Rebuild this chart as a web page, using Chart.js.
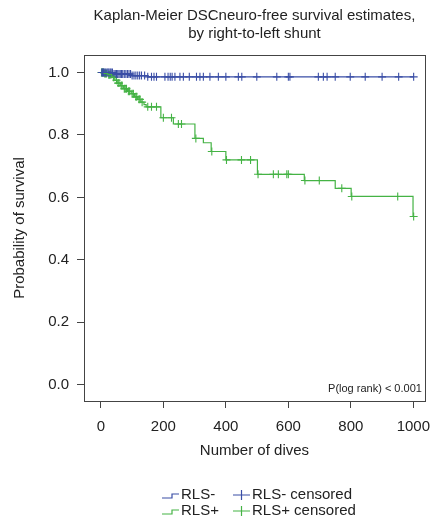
<!DOCTYPE html>
<html lang="en">
<head>
  <title>Kaplan-Meier DSCneuro-free survival</title>
  <script src="https://cdn.jsdelivr.net/npm/chart.js"></script>
  <style>
    body { margin: 0; background: #fff; }
    #wrap { width: 430px; height: 525px; position: relative; }
  </style>
</head>
<body>
  <div id="wrap">
    <canvas id="kmChart"></canvas>
  </div>
  <script>
    // RLS- : event times and survival after each event
    const negTimes = [0, 40, 100, 150, 1001];
    const negSurv = [1.0, 0.995, 0.99, 0.986, 0.986];
    const negCensored = [3, 5, 8, 10, 13, 16, 20, 23, 26, 30, 33, 37, 42, 46, 50, 54, 58, 62, 66, 70,
      75, 80, 85, 90, 95, 100, 106, 112, 118, 124, 130, 140, 150, 162, 170, 178, 205, 215, 222, 228,
      237, 253, 264, 283, 306, 317, 328, 349, 376, 400, 440, 451, 499, 563, 600, 605, 696, 712, 724,
      750, 798, 846, 900, 953, 1001];

    // RLS+
    const posTimes = [0, 10, 22, 35, 45, 52, 62, 72, 85, 97, 108, 118, 128, 138, 145, 192, 232, 301,
      328, 353, 400, 501, 651, 750, 801, 999];
    const posSurv = [1.0, 0.997, 0.993, 0.985, 0.975, 0.966, 0.958, 0.948, 0.94, 0.932, 0.922, 0.914,
      0.905, 0.897, 0.89, 0.855, 0.835, 0.789, 0.775, 0.747, 0.72, 0.674, 0.654, 0.629, 0.603, 0.539];
    const posCensored = [2, 4, 6, 8, 12, 15, 18, 25, 28, 32, 40, 42, 50, 55, 58, 65, 68, 75, 78, 82,
      88, 92, 100, 104, 112, 115, 122, 125, 132, 150, 162, 178, 200, 226, 248, 258, 304, 355, 402, 450,
      479, 503, 552, 568, 595, 600, 653, 699, 771, 803, 950, 1001];

    const xTicks = [0, 200, 400, 600, 800, 1000];
    const yTicks = [0, 0.2, 0.4, 0.6, 0.8, 1.0];

    const blue = '#3a4ea6';
    const green = '#45b345';
    const ink = '#222';
    const font = '"Liberation Sans", Arial, sans-serif';

    function survAt(times, surv, t) {
      let s = surv[0];
      for (let i = 0; i < times.length; i++) {
        if (times[i] <= t) s = surv[i];
      }
      return s;
    }
    function curve(times, surv) {
      return times.map((t, i) => ({ x: t, y: surv[i] }));
    }
    function marks(cens, times, surv) {
      return cens.map(t => ({ x: t, y: survAt(times, surv, t) }));
    }

    // frame, titles, legend and p value
    const extras = {
      id: 'extras',
      afterDraw(chart) {
        const ctx = chart.ctx;
        const a = chart.chartArea;
        ctx.save();
        ctx.strokeStyle = '#444';
        ctx.lineWidth = 1;
        ctx.strokeRect(Math.round(a.left) + 0.5, Math.round(a.top) + 0.5,
          Math.round(a.right - a.left), Math.round(a.bottom - a.top));

        const cx = (a.left + a.right) / 2;
        ctx.fillStyle = ink;
        ctx.textAlign = 'center';
        ctx.textBaseline = 'middle';
        ctx.font = '15px ' + font;
        ctx.fillText('Kaplan-Meier DSCneuro-free survival estimates,', cx, 16);
        ctx.fillText('by right-to-left shunt', cx, 34);

        ctx.fillText('Number of dives', cx, 451);
        ctx.save();
        ctx.translate(20, (a.top + a.bottom) / 2);
        ctx.rotate(-Math.PI / 2);
        ctx.fillText('Probability of survival', 0, 0);
        ctx.restore();

        ctx.font = '11px ' + font;
        ctx.textAlign = 'right';
        ctx.fillText('P(log rank) < 0.001', a.right - 3, 389);

        // legend
        const rows = [
          { y: 494, color: blue, label: 'RLS-' },
          { y: 510, color: green, label: 'RLS+' }
        ];
        ctx.font = '15px ' + font;
        ctx.textAlign = 'left';
        rows.forEach(r => {
          ctx.strokeStyle = r.color;
          ctx.lineWidth = 1.2;
          ctx.beginPath();
          ctx.moveTo(162, r.y + 4);
          ctx.lineTo(172, r.y + 4);
          ctx.lineTo(172, r.y);
          ctx.lineTo(179, r.y);
          ctx.stroke();
          ctx.beginPath();
          ctx.moveTo(233, r.y + 1);
          ctx.lineTo(250, r.y + 1);
          ctx.moveTo(241.5, r.y - 4);
          ctx.lineTo(241.5, r.y + 6);
          ctx.stroke();
          ctx.fillStyle = ink;
          ctx.fillText(r.label, 181, r.y + 1);
          ctx.fillText(r.label + ' censored', 252, r.y + 1);
        });
        ctx.restore();
      }
    };

    new Chart(document.getElementById('kmChart'), {
      type: 'scatter',
      data: {
        datasets: [
          {
            label: 'RLS-',
            type: 'line',
            data: curve(negTimes, negSurv),
            stepped: true,
            borderColor: blue,
            borderWidth: 1.2,
            pointRadius: 0,
            fill: false
          },
          {
            label: 'RLS+',
            type: 'line',
            data: curve(posTimes, posSurv),
            stepped: true,
            borderColor: green,
            borderWidth: 1.2,
            pointRadius: 0,
            fill: false
          },
          {
            label: 'RLS- censored',
            data: marks(negCensored, negTimes, negSurv),
            pointStyle: 'cross',
            pointRadius: 4,
            borderColor: blue,
            borderWidth: 1.1
          },
          {
            label: 'RLS+ censored',
            data: marks(posCensored, posTimes, posSurv),
            pointStyle: 'cross',
            pointRadius: 4,
            borderColor: green,
            borderWidth: 1.1
          }
        ]
      },
      options: {
        responsive: true,
        maintainAspectRatio: false,
        animation: false,
        events: [],
        layout: { padding: { top: 55, right: 5, bottom: 84, left: 0 } },
        plugins: {
          legend: { display: false },
          tooltip: { enabled: false },
          title: { display: false }
        },
        scales: {
          x: {
            type: 'linear',
            min: -54,
            max: 1037,
            afterFit(scale) {
              scale.height = 40;
              scale.paddingLeft = 0;
              scale.paddingRight = 0;
            },
            afterBuildTicks(scale) { scale.ticks = xTicks.map(v => ({ value: v })); },
            border: { display: false },
            grid: { drawOnChartArea: false, tickLength: 7, color: '#444', lineWidth: 1 },
            ticks: {
              color: ink,
              font: { family: font, size: 15 },
              padding: 10,
              maxRotation: 0,
              callback: v => String(v)
            }
          },
          y: {
            min: -0.052,
            max: 1.056,
            afterFit(scale) {
              scale.width = 84;
              scale.paddingTop = 0;
              scale.paddingBottom = 0;
            },
            afterBuildTicks(scale) { scale.ticks = yTicks.map(v => ({ value: v })); },
            border: { display: false },
            grid: { drawOnChartArea: false, tickLength: 7, color: '#444', lineWidth: 1 },
            ticks: {
              color: ink,
              font: { family: font, size: 15 },
              padding: 8,
              callback: v => v.toFixed(1)
            }
          }
        }
      },
      plugins: [extras]
    });
  </script>
</body>
</html>
